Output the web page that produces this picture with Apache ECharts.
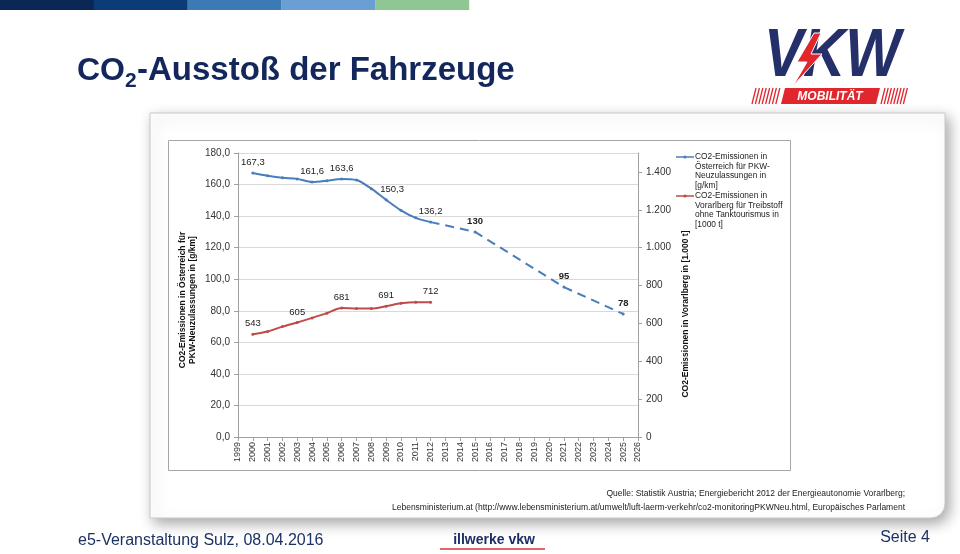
<!DOCTYPE html>
<html>
<head>
<meta charset="utf-8">
<script src="https://cdn.jsdelivr.net/npm/echarts@6/dist/echarts.min.js"></script>
<style>
html,body{margin:0;padding:0;background:#fff;}
#c{width:960px;height:554px;}
</style>
</head>
<body>
<div id="c"></div>
<script>
// ---- data ----
const years = ['1999','2000','2001','2002','2003','2004','2005','2006','2007','2008','2009','2010','2011','2012',
  '2013','2014','2015','2016','2017','2018','2019','2020','2021','2022','2023','2024','2025','2026'];
const actualYears = ['2000','2001','2002','2003','2004','2005','2006','2007','2008','2009','2010','2011','2012'];
const austriaActual = [167.3, 165.6, 164.3, 163.6, 161.6, 162.4, 163.6, 162.9, 157.4, 150.3, 143.7, 138.9, 136.2];
const austriaLabelYears = ['2000','2004','2006','2009','2012'];
const targetYears = ['2012','2015','2021','2025'];
const austriaTarget = [136.2, 130, 95, 78];
const targetLabelYears = ['2015','2021','2025'];
const vorarlberg = [543, 557, 583, 605, 629, 654, 681, 679, 679, 691, 706, 712, 712];
const vorarlbergLabelYears = ['2000','2003','2006','2009','2012'];
const leftTicks = [0, 20, 40, 60, 80, 100, 120, 140, 160, 180];
const rightTicks = [0, 200, 400, 600, 800, 1000, 1200, 1400];
const nameAustria = 'CO2-Emissionen in\nÖsterreich für PKW-\nNeuzulassungen in\n[g/km]';
const nameVbg = 'CO2-Emissionen in\nVorarlberg für Treibstoff\nohne Tanktourismus in\n[1000 t]';

const FONT = 'Liberation Sans, Arial, sans-serif';
const BLUE = '#4a7ebb';
const RED = '#be4b48';
const NAVY = '#13275c';

const fmtDec = v => v.toFixed(1).replace('.', ',');
const fmtThousand = v => v >= 1000 ? String(v).replace(/\B(?=(\d{3})+(?!\d))/g, '.') : String(v);

const lblBase = {fontFamily: FONT, fontSize: 9.5, color: '#222', position: 'top', distance: 4};

const blueData = austriaActual.map((v, i) => ({
  value: [actualYears[i], v],
  label: Object.assign({show: austriaLabelYears.includes(actualYears[i]), formatter: p => fmtDec(p.value[1])}, lblBase,
    actualYears[i] === '2009' ? {offset: [6, 0]} : {})
}));
const targetData = austriaTarget.map((v, i) => ({
  value: [targetYears[i], v],
  symbolSize: targetLabelYears.includes(targetYears[i]) ? 3 : 0,
  label: Object.assign({show: targetLabelYears.includes(targetYears[i]), formatter: p => String(p.value[1]), fontWeight: 'bold'}, lblBase)
}));
const redData = vorarlberg.map((v, i) => ({
  value: [actualYears[i], v],
  label: Object.assign({show: vorarlbergLabelYears.includes(actualYears[i]), formatter: p => String(p.value[1])}, lblBase)
}));

// ---- slide decoration ----
const barColors = ['#0a2756', '#0b3c78', '#3b7ab5', '#6a9ed4', '#8fc692'];
const graphics = [];
barColors.forEach((c, i) => graphics.push({type: 'rect', shape: {x: i * 93.8, y: 0, width: 94, height: 10}, style: {fill: c}, z: -5}));
// title
graphics.push({type: 'text', x: 77, y: 71, style: {text: 'CO', font: 'bold 32px ' + FONT, fill: NAVY, verticalAlign: 'middle'}, z: 5});
graphics.push({type: 'text', x: 125, y: 81, style: {text: '2', font: 'bold 21px ' + FONT, fill: NAVY, verticalAlign: 'middle'}, z: 5});
graphics.push({type: 'text', x: 137, y: 71, style: {text: '-Ausstoß der Fahrzeuge', font: 'bold 33px ' + FONT, fill: NAVY, verticalAlign: 'middle'}, z: 5});
// logo
graphics.push({type: 'text', x: 764, y: 57, scaleX: 0.86, style: {text: 'VKW', font: 'italic 900 68px ' + FONT, fill: '#25306b', verticalAlign: 'middle'}, z: 5});
graphics.push({type: 'polygon', shape: {points: [[814, 33], [797, 62], [807, 62], [793, 86], [822, 54], [811, 54], [821, 33]]}, style: {fill: '#e1262d', stroke: '#fff', lineWidth: 1}, z: 6});
graphics.push({type: 'polygon', shape: {points: [[785, 88], [880, 88], [876, 104], [781, 104]]}, style: {fill: '#e1262d'}, z: 5});
graphics.push({type: 'text', x: 830, y: 96.5, style: {text: 'MOBILITÄT', font: 'italic bold 12px ' + FONT, fill: '#fff', align: 'center', verticalAlign: 'middle'}, z: 6});
for (let i = 0; i < 8; i++) {
  graphics.push({type: 'line', shape: {x1: 752 + i * 3.4, y1: 104, x2: 756 + i * 3.4, y2: 88}, style: {stroke: '#e1262d', lineWidth: 1.3}, z: 5});
  graphics.push({type: 'line', shape: {x1: 881 + i * 3.2, y1: 104, x2: 885 + i * 3.2, y2: 88}, style: {stroke: '#e1262d', lineWidth: 1.3}, z: 5});
}
// content box with shadow
graphics.push({type: 'rect', shape: {x: 150, y: 113, width: 795, height: 405, r: [0, 0, 14, 0]},
  style: {fill: '#fff', stroke: '#c8c8c8', lineWidth: 1, shadowBlur: 14, shadowOffsetX: 4, shadowOffsetY: 5, shadowColor: 'rgba(0,0,0,0.35)'}, z: -4});
// chart frame
graphics.push({type: 'rect', shape: {x: 168.5, y: 140.5, width: 622, height: 330}, style: {fill: '#fff', stroke: '#a6a6a6', lineWidth: 1}, z: -3});
// axis titles
graphics.push({type: 'text', x: 188, y: 300, rotation: Math.PI / 2,
  style: {text: 'CO2-Emissionen in Österreich für\nPKW-Neuzulassungen in [g/km]', font: 'bold 8.5px ' + FONT, fill: '#111', align: 'center', verticalAlign: 'middle', lineHeight: 10}, z: 5});
graphics.push({type: 'text', x: 686, y: 314, rotation: Math.PI / 2,
  style: {text: 'CO2-Emissionen in Vorarlberg in [1.000 t]', font: 'bold 8.5px ' + FONT, fill: '#111', align: 'center', verticalAlign: 'middle'}, z: 5});
// legend (line + marker + multi-line label, icon on first line)
[[nameAustria, BLUE, 157], [nameVbg, RED, 196]].forEach(([name, col, y]) => {
  graphics.push({type: 'line', shape: {x1: 676, y1: y, x2: 694, y2: y}, style: {stroke: col, lineWidth: 1.5}, z: 5});
  graphics.push({type: 'circle', shape: {cx: 685, cy: y, r: 1.6}, style: {fill: col}, z: 5});
  graphics.push({type: 'text', x: 695, y: y - 4.75, style: {text: name, font: '8.4px ' + FONT, fill: '#222', verticalAlign: 'top', lineHeight: 9.5}, z: 5});
});
// source
graphics.push({type: 'text', x: 905, y: 494, style: {text: 'Quelle: Statistik Austria; Energiebericht 2012 der Energieautonomie Vorarlberg;', font: '8.5px ' + FONT, fill: '#222', align: 'right', verticalAlign: 'middle'}, z: 5});
graphics.push({type: 'text', x: 905, y: 508, style: {text: 'Lebensministerium.at (http://www.lebensministerium.at/umwelt/luft-laerm-verkehr/co2-monitoringPKWNeu.html, Europäisches Parlament', font: '8.5px ' + FONT, fill: '#222', align: 'right', verticalAlign: 'middle'}, z: 5});
// footer
graphics.push({type: 'text', x: 78, y: 541, style: {text: 'e5-Veranstaltung Sulz, 08.04.2016', font: '16px ' + FONT, fill: '#1b3266', verticalAlign: 'middle'}, z: 5});
graphics.push({type: 'text', x: 930, y: 538, style: {text: 'Seite 4', font: '16px ' + FONT, fill: '#1b3266', align: 'right', verticalAlign: 'middle'}, z: 5});
graphics.push({type: 'text', x: 494, y: 540, style: {text: 'illwerke vkw', font: 'bold 14px ' + FONT, fill: '#1b2f66', align: 'center', verticalAlign: 'middle'}, z: 5});
graphics.push({type: 'line', shape: {x1: 440, y1: 549, x2: 545, y2: 549}, style: {stroke: '#d9333a', lineWidth: 1.5}, z: 5});

const chart = echarts.init(document.getElementById('c'), null, {renderer: 'canvas'});
chart.setOption({
  animation: false,
  backgroundColor: '#fff',
  textStyle: {fontFamily: FONT},
  graphic: {elements: graphics},
  grid: {left: 238, right: 322, top: 153, bottom: 117, containLabel: false},
  xAxis: {
    type: 'category', data: years, boundaryGap: false,
    axisLine: {lineStyle: {color: '#a0a0a0'}},
    axisTick: {alignWithLabel: true, length: 4, lineStyle: {color: '#a0a0a0'}},
    axisLabel: {rotate: 90, fontSize: 9, color: '#333', margin: 5, interval: 0},
    splitLine: {show: false}
  },
  yAxis: [{
    type: 'value', min: 0, max: 180, interval: 20,
    axisLine: {show: true, lineStyle: {color: '#a0a0a0'}},
    axisTick: {show: true, length: 4, lineStyle: {color: '#a0a0a0'}},
    axisLabel: {fontSize: 10, color: '#333', margin: 8, formatter: v => leftTicks.includes(v) ? fmtDec(v) : ''},
    splitLine: {lineStyle: {color: '#d9d9d9'}}
  }, {
    type: 'value', min: 0, max: 1500, interval: 200, position: 'right',
    axisLine: {show: true, lineStyle: {color: '#a0a0a0'}},
    axisTick: {show: true, length: 4, lineStyle: {color: '#a0a0a0'}, customValues: rightTicks},
    axisLabel: {fontSize: 10, color: '#333', margin: 8, formatter: v => fmtThousand(v), customValues: rightTicks},
    splitLine: {show: false}
  }],
  series: [{
    name: nameAustria, type: 'line', data: blueData, smooth: 0.3,
    symbol: 'circle', symbolSize: 3, showSymbol: true,
    lineStyle: {color: BLUE, width: 2}, itemStyle: {color: BLUE}, z: 3
  }, {
    name: 'target', type: 'line', data: targetData,
    symbol: 'circle', symbolSize: 3,
    lineStyle: {color: BLUE, width: 2, type: [9, 6]}, itemStyle: {color: BLUE}, z: 3
  }, {
    name: nameVbg, type: 'line', yAxisIndex: 1, data: redData, smooth: 0.3,
    symbol: 'circle', symbolSize: 3, showSymbol: true,
    lineStyle: {color: RED, width: 2}, itemStyle: {color: RED}, z: 3
  }]
});
</script>
</body>
</html>
